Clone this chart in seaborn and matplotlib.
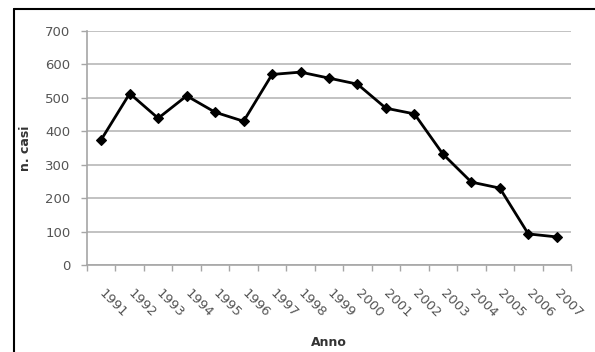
import matplotlib
matplotlib.use("Agg")
import matplotlib.pyplot as plt
from matplotlib.lines import Line2D
from matplotlib.transforms import ScaledTranslation
import seaborn as sns
import pandas as pd
import numpy as np

years = ["1991", "1992", "1993", "1994", "1995", "1996", "1997", "1998", "1999",
         "2000", "2001", "2002", "2003", "2004", "2005", "2006", "2007"]
cases = [375, 513, 439, 506, 457, 430, 570, 577, 559, 541, 469, 452, 332, 248, 230, 93, 84]
yticks = [0, 100, 200, 300, 400, 500, 600, 700]

sns.set_style("white")
plt.rcParams['font.family'] = ['DejaVu Sans']

df = pd.DataFrame({"Anno": years, "casi": cases})
df["pos"] = np.arange(len(years))

fig = plt.figure(figsize=(5.95, 3.52), dpi=100)
ax = fig.add_axes([87/595, 1-265/352, (571-87)/595, (265-31)/352])

sns.lineplot(data=df, x="pos", y="casi", ax=ax, color="black", linewidth=2.0,
             marker="D", markersize=5.5, markeredgewidth=0.8, markeredgecolor="black",
             sort=False, zorder=3)

ax.set_xlim(-0.5, len(years) - 0.5)
ax.set_ylim(0, 700)
ax.set_yticks(yticks)
ax.set_yticklabels([str(v) for v in yticks])
ax.set_xticks(df["pos"])
ax.set_xticklabels(years, rotation=-45, ha="left", va="center", rotation_mode="anchor")
ax.set_xticks(np.arange(-0.5, len(years), 1.0), minor=True)
shift = ScaledTranslation(-4/100, 0, fig.dpi_scale_trans)
for lab in ax.get_xticklabels():
    lab.set_transform(lab.get_transform() + shift)

ax.grid(axis="y", color="#bdbdbd", linewidth=1.3)
ax.set_axisbelow(True)
for s in ["top", "right"]:
    ax.spines[s].set_visible(False)
for s in ["left", "bottom"]:
    ax.spines[s].set_color("#a6a6a6")
    ax.spines[s].set_linewidth(1.2)

ax.tick_params(axis="y", which="major", length=4, width=1, color="#a6a6a6",
               labelsize=9.5, labelcolor="#555555", pad=8, left=True)
ax.tick_params(axis="x", which="major", length=0, labelsize=9.5, labelcolor="#555555", pad=19)
ax.tick_params(axis="x", which="minor", length=4, width=1, color="#a6a6a6", bottom=True)

ax.set_ylabel("n. casi", fontsize=9, fontweight="bold", color="#333333")
ax.yaxis.label.set_va("center")
ax.yaxis.label.set_ha("center")
ax.yaxis.set_label_coords((25 - 87) / 484, 0.5)
ax.set_xlabel("Anno", fontsize=9, fontweight="bold", color="#333333")
ax.xaxis.label.set_va("center")
ax.xaxis.set_label_coords(0.5, (265 - 343) / 234)

# outer frame (left and top edges visible)
fig.add_artist(Line2D([13.5/595, 13.5/595], [0, 1 - 8.5/352], transform=fig.transFigure,
                      color="black", linewidth=1.5))
fig.add_artist(Line2D([13.5/595, 1], [1 - 8.5/352, 1 - 8.5/352], transform=fig.transFigure,
                      color="black", linewidth=1.5))

fig.savefig("out.png", dpi=100)
